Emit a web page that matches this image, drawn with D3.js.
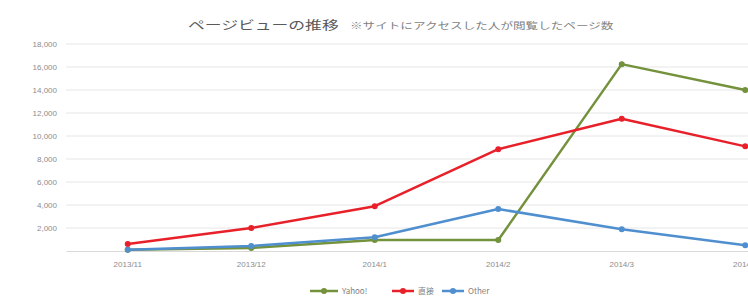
<!DOCTYPE html>
<html>
<head>
<meta charset="utf-8">
<script src="https://cdn.jsdelivr.net/npm/d3@7"></script>
<style>
  body { margin: 0; background: #fff; }
  svg { display: block; font-family: "Noto Sans CJK JP", "Noto Sans", sans-serif; }
</style>
</head>
<body>
<svg id="canvas" width="748" height="296"></svg>
<script>
let months = ['2013/11', '2013/12', '2014/1', '2014/2', '2014/3', '2014/4'];
let seriesNames = ['Yahoo!', '直接', 'Other'];
let yahooValues = [100, 260, 950, 950, 16250, 14000];
let directValues = [600, 2000, 3900, 8850, 11500, 9100];
let otherValues = [100, 430, 1200, 3650, 1900, 500];
let yTicks = [2000, 4000, 6000, 8000, 10000, 12000, 14000, 16000, 18000];
let colors = ['#74913c', '#e8202a', '#4f8fcf'];

let allSeries = [yahooValues, directValues, otherValues];

let canvas = d3.select('#canvas');

let x = d3.scaleBand()
  .domain(months)
  .range([66, 807]);

let y = d3.scaleLinear()
  .domain([0, 18000])
  .range([251, 44]);

// grid lines
canvas.append('g')
  .selectAll('line')
  .data(yTicks)
  .enter()
  .append('line')
  .attr('x1', 66)
  .attr('x2', 748)
  .attr('y1', d => y(d))
  .attr('y2', d => y(d))
  .attr('stroke', '#e6e6e6')
  .attr('stroke-width', 1);

// y axis labels
let yAxis = d3.axisLeft(y)
  .tickValues(yTicks)
  .tickFormat(d3.format(','))
  .tickSize(0)
  .tickPadding(9);

canvas.append('g')
  .attr('transform', 'translate(66,0)')
  .call(yAxis)
  .call(g => g.select('.domain').remove())
  .selectAll('text')
  .attr('fill', '#8c8c8c')
  .style('font-size', '8px');

// x axis
let xAxis = d3.axisBottom(x)
  .tickSize(0)
  .tickPadding(10);

canvas.append('g')
  .attr('transform', 'translate(0,251)')
  .call(xAxis)
  .call(g => g.select('.domain').attr('stroke', '#d9d9d9'))
  .selectAll('text')
  .attr('fill', '#8c8c8c')
  .style('font-size', '8px');

let line = d3.line()
  .x((d, i) => x(months[i]) + x.bandwidth() / 2)
  .y(d => y(d));

allSeries.forEach((values, s) => {
  canvas.append('path')
    .datum(values)
    .attr('d', line)
    .attr('fill', 'none')
    .attr('stroke', colors[s])
    .attr('stroke-width', 2.5)
    .attr('stroke-linejoin', 'round');

  canvas.append('g')
    .selectAll('circle')
    .data(values)
    .enter()
    .append('circle')
    .attr('cx', (d, i) => x(months[i]) + x.bandwidth() / 2)
    .attr('cy', d => y(d))
    .attr('r', 3)
    .attr('fill', colors[s]);
});

// title (the picture is squashed vertically, so text is stretched sideways)
canvas.append('text')
  .attr('transform', 'translate(188,30) scale(1.4,1)')
  .attr('fill', '#595959')
  .style('font-size', '12px')
  .text('ページビューの推移');

canvas.append('text')
  .attr('transform', 'translate(350,29) scale(1.4,1)')
  .attr('fill', '#7f7f7f')
  .style('font-size', '9px')
  .text('※サイトにアクセスした人が閲覧したページ数');

// legend
let legendX = [310, 392, 442];
let legend = canvas.append('g');
seriesNames.forEach((name, s) => {
  let lx = legendX[s];
  let w = s === 0 ? 28 : 22;
  legend.append('line')
    .attr('x1', lx)
    .attr('x2', lx + w)
    .attr('y1', 291)
    .attr('y2', 291)
    .attr('stroke', colors[s])
    .attr('stroke-width', 2.5);
  legend.append('circle')
    .attr('cx', lx + w / 2)
    .attr('cy', 291)
    .attr('r', 3)
    .attr('fill', colors[s]);
  legend.append('text')
    .attr('x', lx + w + 4)
    .attr('y', 294)
    .attr('fill', '#7f7f7f')
    .style('font-size', '8px')
    .text(name);
});
</script>
</body>
</html>
